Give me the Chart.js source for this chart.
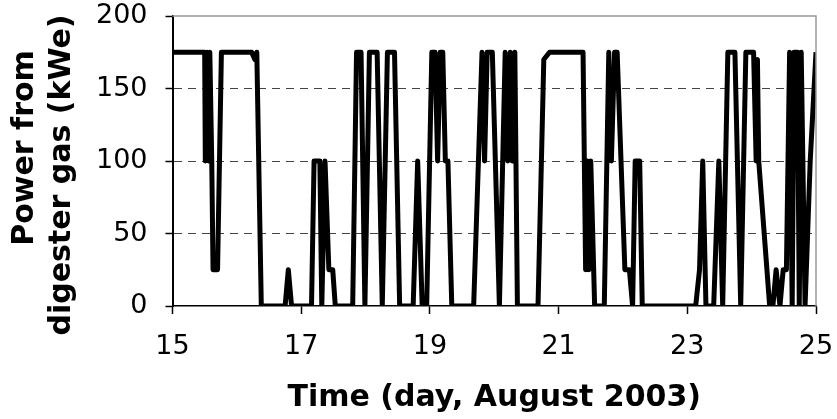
<!DOCTYPE html>
<html>
<head>
<meta charset="utf-8">
<script src="https://cdn.jsdelivr.net/npm/chart.js@4.4.1/dist/chart.umd.min.js"></script>
<style>
  html, body { margin: 0; padding: 0; background: #fff; }
  #wrap { width: 837px; height: 419px; }
</style>
</head>
<body>
<div id="wrap"><canvas id="powerChart" width="837" height="419"></canvas></div>
<script>
// time in days (August 2003) and generator output
const days = [
  15.00, 15.50, 15.51, 15.54, 15.56, 15.58, 15.61, 15.63, 15.70, 15.76,
  16.23, 16.28, 16.31, 16.38, 16.75, 16.80, 16.85, 17.16, 17.20, 17.29,
  17.32, 17.37, 17.43, 17.49, 17.53, 17.80, 17.86, 17.93, 17.99, 18.06,
  18.10, 18.18, 18.26, 18.34, 18.38, 18.45, 18.53, 18.74, 18.81, 18.88,
  18.95, 19.03, 19.08, 19.12, 19.16, 19.20, 19.24, 19.28, 19.34, 19.68,
  19.81, 19.85, 19.89, 19.97, 20.08, 20.17, 20.21, 20.25, 20.28, 20.32,
  20.36, 20.68, 20.77, 20.86, 21.38, 21.42, 21.45, 21.47, 21.50, 21.56,
  21.71, 21.78, 21.82, 21.87, 21.91, 21.97, 22.03, 22.10, 22.15, 22.19,
  22.26, 22.30, 23.13, 23.19, 23.24, 23.29, 23.41, 23.49, 23.55, 23.63,
  23.74, 23.83, 23.91, 24.03, 24.07, 24.09, 24.11, 24.28, 24.33, 24.38,
  24.44, 24.49, 24.54, 24.59, 24.63, 24.66, 24.71, 24.74, 24.77, 24.83,
  24.91, 25.00
];
const power = [
  175, 175, 100, 175, 100, 175, 100, 25, 25, 175,
  175, 170, 175, 0, 0, 25, 0, 0, 100, 100,
  0, 100, 25, 25, 0, 0, 175, 175, 0, 175,
  175, 175, 0, 175, 175, 175, 0, 0, 100, 0,
  0, 175, 175, 100, 175, 175, 100, 100, 0, 0,
  175, 100, 175, 175, 0, 175, 100, 175, 100, 175,
  0, 0, 170, 175, 175, 25, 100, 25, 100, 0,
  0, 175, 100, 175, 175, 100, 25, 25, 0, 100,
  100, 0, 0, 25, 100, 0, 0, 100, 0, 175,
  175, 0, 175, 175, 100, 170, 100, 0, 0, 25,
  0, 25, 25, 175, 0, 175, 175, 0, 175, 0,
  100, 175
];
const xTicks = [15, 17, 19, 21, 23, 25];
const yTicks = [0, 50, 100, 150, 200];
const yTitle = ['Power from', 'digester gas (kWe)'];

const points = days.map((d, i) => ({ x: d, y: power[i] }));
const FONT = 'DejaVu Sans';

// grey frame on top and right of the plot area
const framePlugin = {
  id: 'frame',
  afterDatasetsDraw(chart) {
    const { ctx, chartArea: a } = chart;
    ctx.save();
    ctx.strokeStyle = '#999';
    ctx.lineWidth = 1.5;
    ctx.beginPath();
    ctx.moveTo(a.left, a.top);
    ctx.lineTo(a.right, a.top);
    ctx.lineTo(a.right, a.bottom);
    ctx.stroke();
    ctx.restore();
  }
};

// rotated two-line y title, each line placed like the original
const yTitlePlugin = {
  id: 'yTitle',
  afterDraw(chart) {
    const { ctx } = chart;
    const spots = [[25, 148], [62, 175]];
    ctx.save();
    ctx.fillStyle = '#000';
    ctx.font = 'bold 30px "DejaVu Sans"';
    ctx.textAlign = 'center';
    ctx.textBaseline = 'middle';
    yTitle.forEach((line, i) => {
      ctx.save();
      ctx.translate(spots[i][0], spots[i][1]);
      ctx.rotate(-Math.PI / 2);
      ctx.fillText(line, 0, 0);
      ctx.restore();
    });
    ctx.restore();
  }
};

new Chart(document.getElementById('powerChart').getContext('2d'), {
  type: 'line',
  data: {
    datasets: [{
      data: points,
      borderColor: '#000',
      borderWidth: 5,
      pointRadius: 0,
      tension: 0,
      borderJoinStyle: 'round',
      fill: false
    }]
  },
  options: {
    responsive: false,
    animation: false,
    events: [],
    layout: { padding: { top: 16, right: 21, left: 0, bottom: 0 } },
    plugins: { legend: { display: false }, tooltip: { enabled: false } },
    scales: {
      x: {
        type: 'linear',
        min: 15,
        max: 25,
        afterBuildTicks(scale) { scale.ticks = xTicks.map(v => ({ value: v })); },
        afterFit(scale) {
          scale.height = 113;
          scale.paddingLeft = 0;
          scale.paddingRight = 0;
        },
        grid: { drawOnChartArea: false, tickLength: 8, tickColor: '#000', tickWidth: 1.5 },
        border: { color: '#000', width: 1.5 },
        ticks: { color: '#000', padding: 17, font: { family: FONT, size: 27 }, maxRotation: 0 },
        title: {
          display: true,
          text: 'Time (day, August 2003)',
          color: '#000',
          font: { family: FONT, size: 30, weight: 'bold', lineHeight: 1.23 },
          padding: { top: 0, bottom: 2 }
        }
      },
      y: {
        min: 0,
        max: 200,
        afterBuildTicks(scale) { scale.ticks = yTicks.map(v => ({ value: v })); },
        afterFit(scale) {
          scale.width = 172.5;
          scale.paddingTop = 0;
          scale.paddingBottom = 0;
        },
        grid: {
          color: c => (c.tick && (c.tick.value === 0 || c.tick.value === 200)) ? 'rgba(0,0,0,0)' : '#444',
          lineWidth: 1,
          tickLength: 7,
          tickColor: '#000',
          tickWidth: 1.5,
          tickBorderDash: []
        },
        border: { color: '#000', width: 2, dash: [8, 6] },
        ticks: { color: '#000', padding: 18, font: { family: FONT, size: 27 } },
        title: { display: false }
      }
    }
  },
  plugins: [framePlugin, yTitlePlugin]
});
</script>
</body>
</html>
